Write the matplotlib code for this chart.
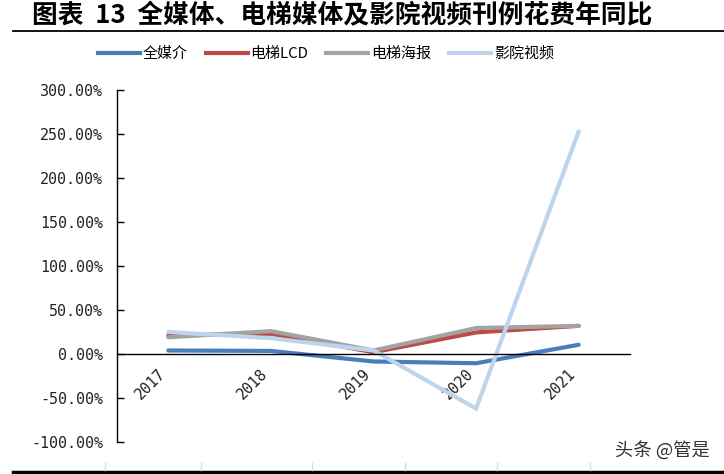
import matplotlib
matplotlib.use("Agg")
import matplotlib.pyplot as plt
from matplotlib.lines import Line2D
from matplotlib.ticker import FuncFormatter

plt.rcParams['font.family'] = ['Noto Sans CJK SC', 'DejaVu Sans']

years = ['2017', '2018', '2019', '2020', '2021']
series_names = ['全媒介', '电梯LCD', '电梯海报', '影院视频']
all_media = [4.0, 3.5, -8.5, -10.5, 10.5]
elevator_lcd = [21.0, 23.0, 2.0, 24.5, 32.0]
elevator_poster = [19.0, 26.0, 4.0, 29.5, 32.0]
cinema_video = [25.0, 18.0, 4.0, -62.0, 253.0]
colors = ['#4a7ebb', '#be4b48', '#a3a3a3', '#bcd5ec']
y_ticks = [-100, -50, 0, 50, 100, 150, 200, 250, 300]

fig = plt.figure(figsize=(7.24, 4.74), dpi=100)
ax = fig.add_axes([117/724, 1 - 442/474, (630-117)/724, (442-90)/474])

x = list(range(len(years)))
for vals, c in zip([all_media, elevator_lcd, elevator_poster, cinema_video], colors):
    ax.plot(x, vals, color=c, lw=3.0, solid_capstyle='round', solid_joinstyle='miter')

ax.set_xlim(-0.5, 4.5)
ax.set_ylim(-100, 300)
ax.set_yticks(y_ticks)
ax.yaxis.set_major_formatter(FuncFormatter(lambda v, p: f'{v:.2f}%'))
ax.tick_params(axis='y', direction='in', length=5, width=1, color='black', pad=10,
               labelsize=10.8, labelcolor='#222222')
for lbl in ax.get_yticklabels():
    lbl.set_fontfamily('DejaVu Sans Mono')

ax.spines['top'].set_visible(False)
ax.spines['right'].set_visible(False)
ax.spines['bottom'].set_position(('data', 0))
ax.spines['bottom'].set_linewidth(1.0)
ax.spines['left'].set_linewidth(1.0)
ax.set_xticks(x)
ax.set_xticklabels(years, rotation=45, ha='right', rotation_mode='default')
ax.tick_params(axis='x', length=0, pad=9, labelsize=10.8, labelcolor='#222222')
for lbl in ax.get_xticklabels():
    lbl.set_fontfamily('DejaVu Sans Mono')

# Title
fig.text(32/724, 1 - 16/474, '图表  13  全媒体、电梯媒体及影院视频刊例花费年同比',
         fontsize=18.5, fontweight='bold', va='center', ha='left', color='black')
fig.add_artist(Line2D([13/724, 1], [1 - 31/474, 1 - 31/474], color='black', lw=1.3,
                      transform=fig.transFigure))
fig.add_artist(Line2D([13/724, 1], [1 - 472/474, 1 - 472/474], color='black', lw=2.5,
                      transform=fig.transFigure))

# faint marks above the bottom rule
for px in [105, 201, 312, 405, 497, 590]:
    fig.add_artist(Line2D([px/724, px/724], [1 - 470/474, 1 - 463/474], color='#d8d8d8',
                          lw=1.0, transform=fig.transFigure))

# Legend
handles = [Line2D([0], [0], color=c, lw=3.0) for c in colors]
fig.legend(handles, series_names, loc='center', bbox_to_anchor=(326/724, 1 - 54/474),
           ncol=4, frameon=False, fontsize=10.8, handlelength=2.8, handletextpad=0.2,
           columnspacing=1.2)

# Watermark
fig.text(662/724, 1 - 450/474, '头条 @管是', fontsize=13.2, color='#333333',
         ha='center', va='center')

fig.savefig('out.png', dpi=100)
